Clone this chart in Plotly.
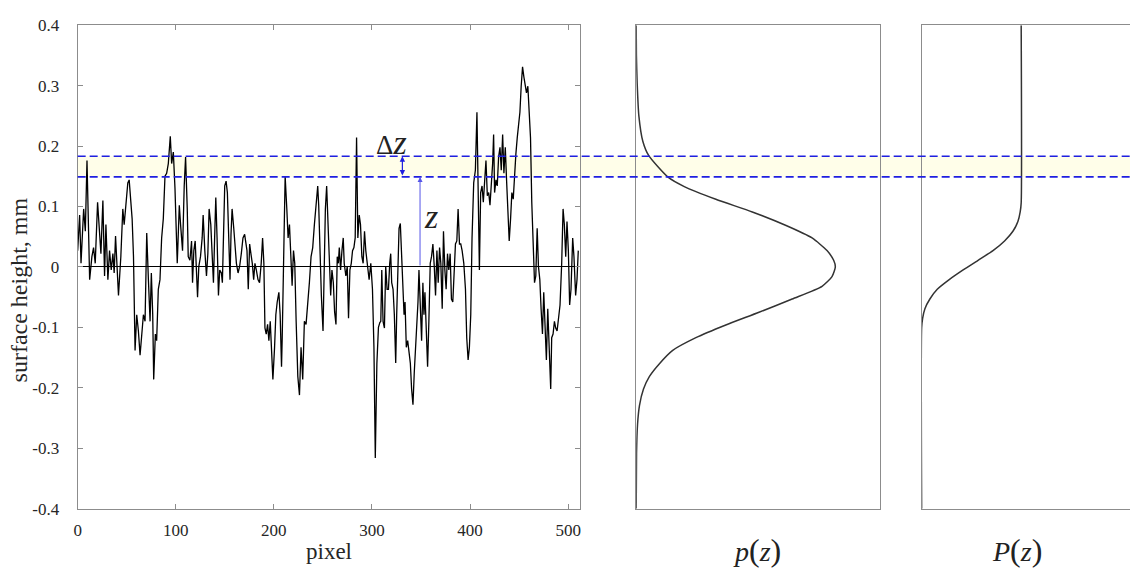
import plotly.graph_objects as go

# ---------------- data ----------------
pixel = [0, 2.0, 3.4, 6.1, 7.8, 9.5, 12.2, 14.5, 16.2, 17.9, 20.3, 22.3, 23.7, 25.7, 27.4, 28.8, 30.8, 32.5, 34.2, 35.9,
         37.2, 38.6, 39.9, 41.6, 44.0, 46.0, 47.4, 49.4, 51.1, 52.5, 54.1, 55.5, 56.9, 58.5, 60.2, 61.9, 63.6, 65.3, 67.0, 68.7,
         70.4, 72.1, 73.8, 75.1, 76.5, 77.5, 79.2, 80.5, 82.2, 83.9, 85.6, 87.3, 89.0, 90.7, 92.4, 94.4, 95.8, 97.5, 99.2, 101.5,
         103.6, 104.9, 106.9, 108.6, 110.0, 111.7, 112.7, 114.4, 116.1, 117.1, 118.4, 119.8, 121.1, 122.2, 123.5, 125.2, 126.9, 127.9, 129.6, 131.3,
         132.7, 134.0, 135.7, 137.1, 138.4, 139.8, 140.8, 142.1, 143.5, 144.8, 146.5, 147.5, 148.9, 149.9, 151.3, 152.6, 154.0, 155.3, 156.3, 157.4,
         159.1, 160.4, 161.8, 163.5, 165.1, 166.8, 168.5, 170.2, 171.2, 172.6, 173.9, 175.3, 176.6, 178.0, 179.4, 180.7, 182.1, 183.8, 185.4, 187.1,
         188.5, 189.8, 190.9, 192.2, 193.6, 194.9, 196.3, 197.6, 199.0, 200.7, 202.0, 203.4, 205.1, 206.4, 207.8, 208.5, 209.8, 211.5, 213.2, 214.5,
         215.9, 217.6, 218.6, 220.0, 221.3, 222.7, 224.4, 226.1, 227.7, 229.4, 231.1, 232.8, 234.5, 236.2, 237.9, 239.6, 241.3, 243.0, 244.7, 245.7,
         247.0, 248.4, 250.1, 251.4, 252.5, 253.8, 255.2, 256.5, 257.9, 259.2, 260.6, 261.9, 263.3, 264.6, 265.7, 266.7, 268.0, 269.4, 270.7, 271.7,
         273.4, 274.8, 276.1, 277.5, 278.9, 280.2, 281.6, 282.9, 284.3, 285.6, 287.0, 288.3, 289.7, 291.0, 292.4, 293.7, 295.4, 297.1, 298.8, 300.5,
         302.0, 303.4, 305.0, 306.6, 308.0, 309.0, 310.0, 311.3, 312.7, 314.0, 315.4, 316.8, 318.1, 319.1, 320.1, 321.5, 322.8, 324.2, 325.2, 326.6,
         327.6, 328.9, 330.3, 331.6, 332.7, 333.7, 335.0, 336.4, 337.7, 339.1, 340.4, 341.8, 343.1, 344.5, 345.9, 346.9, 347.9, 349.2, 350.6, 351.9,
         353.0, 354.0, 355.3, 356.7, 358.0, 359.4, 360.7, 362.1, 363.5, 364.8, 366.2, 367.5, 368.9, 370.2, 371.6, 372.9, 374.3, 375.6, 377.0, 378.3,
         379.7, 381.0, 382.4, 383.8, 385.1, 386.5, 387.8, 389.2, 390.5, 391.9, 393.6, 395.3, 396.6, 398.0, 399.3, 400.7, 402.0, 403.7, 405.4, 407.0,
         408.1, 409.5, 410.8, 412.2, 413.5, 414.9, 416.2, 417.6, 419.0, 420.3, 421.7, 423.0, 424.0, 425.0, 426.4, 427.7, 429.1, 430.5, 431.8, 433.2,
         434.5, 435.9, 437.2, 438.6, 439.9, 441.3, 442.6, 444.0, 445.4, 446.7, 448.1, 449.4, 450.8, 452.1, 453.5, 454.8, 456.2, 457.5, 458.9, 460.2,
         461.6, 462.9, 464.3, 465.7, 467.0, 468.4, 469.7, 471.1, 472.4, 473.8, 475.1, 476.5, 477.8, 479.2, 480.5, 482.2, 483.2, 484.6, 486.0, 487.3,
         488.7, 490.0, 491.7, 493.4, 494.8, 496.1, 497.5, 498.8, 500.2, 501.5, 502.9, 504.6, 505.9, 507.6, 509.0, 510.3]

height_mm = [0.027, 0.086, 0.006, 0.096, 0.059, 0.176, -0.021, 0.017, 0.032, 0.006, 0.107, 0.059, 0.022, 0.110, -0.015, 0.070, -0.021, 0.027, -0.005, 0.022,
             -0.010, 0.051, 0.001, -0.047, 0.017, 0.096, 0.070, 0.107, 0.139, 0.144, 0.107, 0.080, 0.017, -0.138, -0.079, -0.106, -0.146, -0.111, -0.079, -0.090,
             0.056, -0.021, -0.090, -0.010, -0.079, -0.186, -0.111, -0.122, -0.037, -0.021, 0.048, 0.080, 0.150, 0.155, 0.171, 0.216, 0.171, 0.190, 0.130, 0.006,
             0.102, 0.070, 0.027, 0.134, 0.182, 0.096, 0.017, 0.011, 0.043, -0.026, 0.027, 0.043, -0.026, -0.050, 0.001, 0.017, 0.048, 0.086, 0.027, -0.015,
             0.022, 0.096, 0.070, 0.017, -0.026, 0.059, 0.115, 0.048, -0.047, -0.005, -0.010, -0.026, 0.064, 0.134, 0.142, 0.123, 0.048, -0.021, 0.054, 0.096,
             0.064, 0.038, 0.006, -0.010, 0.001, 0.022, 0.048, 0.054, 0.038, 0.027, -0.037, 0.038, 0.022, 0.006, -0.021, 0.006, -0.005, -0.021, -0.026, 0.006,
             0.048, 0.006, -0.101, -0.111, -0.095, -0.122, -0.090, -0.143, -0.186, -0.133, -0.079, -0.058, -0.042, -0.079, -0.165, -0.117, 0.027, 0.150, 0.096, 0.048,
             0.070, -0.015, -0.031, 0.027, 0.006, -0.090, -0.181, -0.212, -0.133, -0.186, -0.090, -0.095, -0.063, -0.026, 0.017, 0.032, 0.070, 0.102, 0.134, 0.102,
             0.027, -0.047, -0.106, 0.001, 0.096, 0.134, 0.070, 0.001, -0.047, -0.005, -0.026, -0.074, -0.095, 0.017, 0.006, 0.032, -0.005, 0.027, 0.048, 0.006,
             -0.015, 0.001, -0.085, -0.005, 0.006, 0.027, 0.032, 0.048, 0.214, 0.048, 0.086, 0.070, 0.017, 0.006, 0.059, 0.027, 0.006, -0.021, 0.006, -0.037,
             -0.133, -0.316, -0.160, -0.100, -0.092, -0.090, -0.005, -0.090, -0.101, 0.001, -0.037, -0.037, 0.006, 0.022, -0.026, -0.037, -0.079, -0.159, -0.079, 0.017,
             0.064, 0.072, 0.017, -0.047, -0.079, -0.058, -0.133, -0.122, -0.143, -0.159, -0.202, -0.228, -0.175, -0.133, -0.079, -0.058, -0.005, -0.053, -0.122, -0.026,
             -0.079, -0.042, -0.117, -0.165, -0.090, 0.006, 0.017, 0.038, 0.001, -0.047, 0.027, -0.026, 0.032, 0.006, -0.069, 0.059, -0.005, -0.037, 0.022, -0.005,
             0.022, -0.053, -0.058, 0.011, 0.038, 0.043, 0.096, 0.038, 0.038, 0.027, 0.006, -0.037, -0.117, -0.154, -0.133, -0.079, 0.048, 0.139, 0.160, 0.256,
             0.166, -0.005, 0.123, 0.134, 0.107, 0.144, 0.176, 0.118, 0.123, 0.102, 0.134, 0.171, 0.219, 0.123, 0.144, 0.134, 0.182, 0.198, 0.160, 0.219,
             0.155, 0.198, 0.144, 0.096, 0.043, 0.080, 0.123, 0.112, 0.166, 0.187, 0.214, 0.235, 0.256, 0.299, 0.331, 0.315, 0.304, 0.288, 0.299, 0.267,
             0.214, 0.107, 0.027, -0.026, -0.015, 0.064, 0.001, -0.021, -0.069, -0.111, -0.042, -0.095, -0.154, -0.069, -0.133, -0.202, -0.117, -0.111, -0.090, -0.101,
             -0.106, -0.085, -0.063, 0.006, 0.096, 0.070, 0.017, 0.075, 0.027, -0.063, -0.037, 0.048, 0.017, -0.047, -0.021, 0.027]

# probability density p(z) (relative units)
pdf_z = [0.400, 0.350, 0.304, 0.250, 0.208, 0.184, 0.149, 0.133, 0.112, 0.091, 0.069, 0.048, 0.027, 0.011, 0.000,
         -0.016, -0.032, -0.053, -0.075, -0.096, -0.117, -0.138, -0.160, -0.181, -0.202, -0.229, -0.261, -0.309, -0.400]
pdf_p = [0.000, 0.005, 0.023, 0.063, 0.156, 0.297, 0.743, 1.134, 1.878, 2.738, 3.520, 4.146, 4.498, 4.655, 4.694,
         4.616, 4.381, 3.677, 2.895, 2.112, 1.408, 0.861, 0.548, 0.313, 0.172, 0.078, 0.031, 0.008, 0.000]

# cumulative distribution P(z)
cdf_z = [0.400, 0.106, 0.091, 0.075, 0.059, 0.043, 0.027, 0.011, -0.005, -0.021, -0.037, -0.053, -0.069, -0.085, -0.101, -0.400]
cdf_P = [1.000, 1.000, 0.990, 0.967, 0.917, 0.833, 0.717, 0.567, 0.417, 0.277, 0.157, 0.083, 0.033, 0.010, 0.000, 0.000]

y_ticks = [0.4, 0.3, 0.2, 0.1, 0, -0.1, -0.2, -0.3, -0.4]
y_tick_text = ["0.4", "0.3", "0.2", "0.1", "0", "-0.1", "-0.2", "-0.3", "-0.4"]
x_ticks = [0, 100, 200, 300, 400, 500]
x_tick_text = ["0", "100", "200", "300", "400", "500"]

dz_upper = 0.183
dz_lower = 0.149
z_arrow_pixel = 349
dz_arrow_pixel = 331

# ---------------- layout geometry ----------------
W, H = 1131, 579

def px(x):
    return x / W

def py(y):
    return 1 - y / H

main_dom_x = [px(74), px(578.5)]
dom_y = [py(516.7), py(16.7)]
pdf_dom_x = [px(635), px(880)]
cdf_dom_x = [px(921.7), 1.0]

FONT = "Liberation Serif, Times New Roman, serif"
FRAME = "#8c8c8c"
BLUE = "#1f1fe0"
TEXT = "#262626"

fig = go.Figure()

fig.add_trace(go.Scatter(x=pixel, y=height_mm, mode="lines", line=dict(color="black", width=1.3),
                         xaxis="x", yaxis="y", showlegend=False, hoverinfo="skip"))
fig.add_trace(go.Scatter(x=pdf_p, y=pdf_z, mode="lines", line=dict(color="#333333", width=1.5, shape="spline", smoothing=0.6),
                         xaxis="x2", yaxis="y2", showlegend=False, hoverinfo="skip"))
fig.add_trace(go.Scatter(x=cdf_P, y=cdf_z, mode="lines", line=dict(color="#333333", width=1.5, shape="spline", smoothing=0.6),
                         xaxis="x3", yaxis="y3", showlegend=False, hoverinfo="skip"))

axis_common = dict(showgrid=False, linecolor=FRAME, linewidth=1, tickcolor=FRAME,
                   tickfont=dict(family=FONT, size=17, color=TEXT), ticklabeloverflow="allow")

fig.update_layout(
    width=W, height=H,
    margin=dict(l=0, r=0, t=0, b=0),
    paper_bgcolor="white", plot_bgcolor="rgba(0,0,0,0)",
    xaxis=dict(domain=main_dom_x, range=[0, 512], tickvals=x_ticks, ticktext=x_tick_text,
               ticks="inside", ticklen=5, showline=True, mirror="ticks", zeroline=False,
               anchor="y", ticklabelstandoff=6, **axis_common),
    yaxis=dict(domain=dom_y, range=[-0.4, 0.4], tickvals=y_ticks, ticktext=y_tick_text,
               ticks="inside", ticklen=5, showline=True, mirror="ticks",
               zeroline=True, zerolinecolor="black", zerolinewidth=1, anchor="x",
               ticklabelstandoff=14, **axis_common),
    xaxis2=dict(domain=pdf_dom_x, range=[0, 5.75], showticklabels=False, ticks="", showline=True,
                mirror=True, zeroline=False, anchor="y2", showgrid=False, linecolor=FRAME),
    yaxis2=dict(domain=dom_y, range=[-0.4, 0.4], showticklabels=False, ticks="", showline=True,
                mirror=True, zeroline=False, anchor="x2", showgrid=False, linecolor=FRAME),
    xaxis3=dict(domain=cdf_dom_x, range=[0, 2.093], showticklabels=False, ticks="", showline=True,
                mirror=True, zeroline=False, anchor="y3", showgrid=False, linecolor=FRAME),
    yaxis3=dict(domain=dom_y, range=[-0.4, 0.4], showticklabels=False, ticks="", showline=True,
                mirror=False, zeroline=False, anchor="x3", showgrid=False, linecolor=FRAME),
)

# faint band and dashed level lines spanning all panels
fig.add_shape(type="rect", xref="paper", yref="y", x0=main_dom_x[0], x1=1.0, y0=dz_lower, y1=dz_upper,
              fillcolor="#fffee9", line=dict(width=0), layer="below")
for lvl in (dz_upper, dz_lower):
    fig.add_shape(type="line", xref="paper", yref="y", x0=main_dom_x[0], x1=1.0, y0=lvl, y1=lvl,
                  line=dict(color=BLUE, width=1.6, dash="8px,4px"), layer="above")

# arrows
fig.add_annotation(x=z_arrow_pixel, y=dz_lower, ax=z_arrow_pixel, ay=0, xref="x", yref="y", axref="x", ayref="y",
                   text="", showarrow=True, arrowhead=2, arrowsize=1, arrowwidth=1, arrowcolor="#5555e8", standoff=0)
fig.add_annotation(x=dz_arrow_pixel, y=dz_upper, ax=dz_arrow_pixel, ay=dz_lower, xref="x", yref="y", axref="x", ayref="y",
                   text="", showarrow=True, arrowhead=2, arrowside="end+start", arrowsize=0.9, arrowwidth=1.2,
                   arrowcolor=BLUE, standoff=0, startstandoff=0)

# text labels
fig.add_annotation(x=360, y=0.083, xref="x", yref="y", text="<i>z</i>", showarrow=False,
                   xanchor="center", yanchor="middle", font=dict(family=FONT, size=34, color="#222222"))
fig.add_annotation(x=320, y=0.206, xref="x", yref="y", text="<span style='font-size:27px'>Δ</span><i>z</i>",
                   showarrow=False, xanchor="center", yanchor="middle", font=dict(family=FONT, size=34, color="#222222"))
fig.add_annotation(x=px(326), y=py(561), xref="paper", yref="paper", text="pixel", showarrow=False,
                   xanchor="center", yanchor="middle", font=dict(family=FONT, size=23, color=TEXT))
fig.add_annotation(x=px(16), y=py(290), xref="paper", yref="paper", text="surface height, mm", textangle=-90,
                   showarrow=False, xanchor="center", yanchor="middle", font=dict(family=FONT, size=24, color=TEXT))
paren = "<span style='font-size:32px'>(</span>"
cparen = "<span style='font-size:32px'>)</span>"
fig.add_annotation(x=px(756), y=py(559), xref="paper", yref="paper", text="<i>p</i>" + paren + "<i>z</i>" + cparen,
                   showarrow=False, xanchor="center", yanchor="middle", font=dict(family=FONT, size=28, color="#222222"))
fig.add_annotation(x=px(1018), y=py(559), xref="paper", yref="paper", text="<i>P</i>" + paren + "<i>z</i>" + cparen,
                   showarrow=False, xanchor="center", yanchor="middle", font=dict(family=FONT, size=28, color="#222222"))

fig.write_html("out.html")
